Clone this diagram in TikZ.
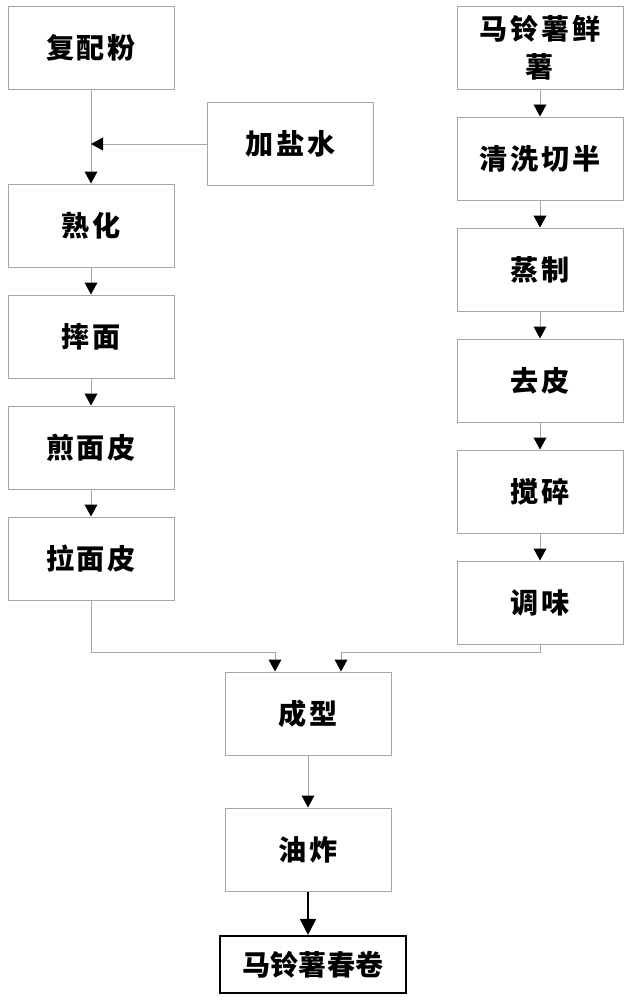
\documentclass[tikz,border=0pt]{standalone}
\usepackage{fontspec}
\newfontfamily\cjkwide{Noto Sans CJK SC}[LetterSpace=10]
\newfontfamily\cjk{Noto Sans CJK SC}
\usetikzlibrary{arrows.meta}

\begin{document}
\begin{tikzpicture}[node distance=2.775cm]
        \tikzstyle{stage} = [rectangle, draw=gray!70, line width=0.7pt, fill=white, minimum width=4.15cm, minimum height=2.075cm, align=center, font=\cjkwide\bfseries\fontsize{20}{27}\selectfont]
        \tikzstyle{final} = [rectangle, draw=black, line width=1.5pt, fill=white, minimum width=4.65cm, minimum height=1.425cm, font=\cjk\bfseries\fontsize{20}{22}\selectfont]
        \tikzstyle{flow} = [draw=gray!70, line width=0.7pt, -{Triangle[width=0.32cm,length=0.3cm,color=black,fill=black]}]
        \tikzstyle{bigflow} = [draw=black, line width=1.3pt, -{Triangle[width=0.4cm,length=0.4cm]}]

        \useasboundingbox (0,0) rectangle (15.75,-25);

        % dough sheet
        \node [stage] (powder) at (2.275,-1.1875) {复配粉};
        \node [stage] (saltwater) at (7.2625,-3.6) {加盐水};
        \node [stage, below of=powder, yshift=-1.675cm] (ripen) {熟化};
        \node [stage, below of=ripen] (slap) {摔面};
        \node [stage, below of=slap] (panfry) {煎面皮};
        \node [stage, below of=panfry] (stretch) {拉面皮};

        % filling
        \node [stage] (potato) at (13.5,-1.1875) {马铃薯鲜\\薯};
        \node [stage, below of=potato] (wash) {清洗切半};
        \node [stage, below of=wash] (steam) {蒸制};
        \node [stage, below of=steam] (peel) {去皮};
        \node [stage, below of=peel] (mash) {搅碎};
        \node [stage, below of=mash] (season) {调味};

        \node [stage] (shape) at (7.7,-17.8375) {成型};
        \node [stage, below of=shape, yshift=-0.625cm] (deepfry) {油炸};
        \node [final, below of=deepfry, yshift=-0.1cm, xshift=0.125cm] (product) {马铃薯春卷};

        \coordinate (meet) at (powder.south |- saltwater.west);
        \coordinate (mergeL) at ([xshift=-0.825cm, yshift=0.475cm]shape.north);
        \coordinate (mergeR) at ([xshift=0.825cm, yshift=0.475cm]shape.north);

        \draw [flow] (powder) -- (ripen);
        \draw [flow] (saltwater.west) -- (meet);
        \draw [flow] (ripen) -- (slap);
        \draw [flow] (slap) -- (panfry);
        \draw [flow] (panfry) -- (stretch);

        \draw [flow] (potato) -- (wash);
        \draw [flow] (wash) -- (steam);
        \draw [flow] (steam) -- (peel);
        \draw [flow] (peel) -- (mash);
        \draw [flow] (mash) -- (season);

        \draw [flow] (stretch.south) |- (mergeL) -- (mergeL |- shape.north);
        \draw [flow] (season.south) |- (mergeR) -- (mergeR |- shape.north);
        \draw [flow] (shape) -- (deepfry);
        \draw [bigflow] (deepfry.south) -- (deepfry.south |- product.north);
    \end{tikzpicture}
\end{document}
